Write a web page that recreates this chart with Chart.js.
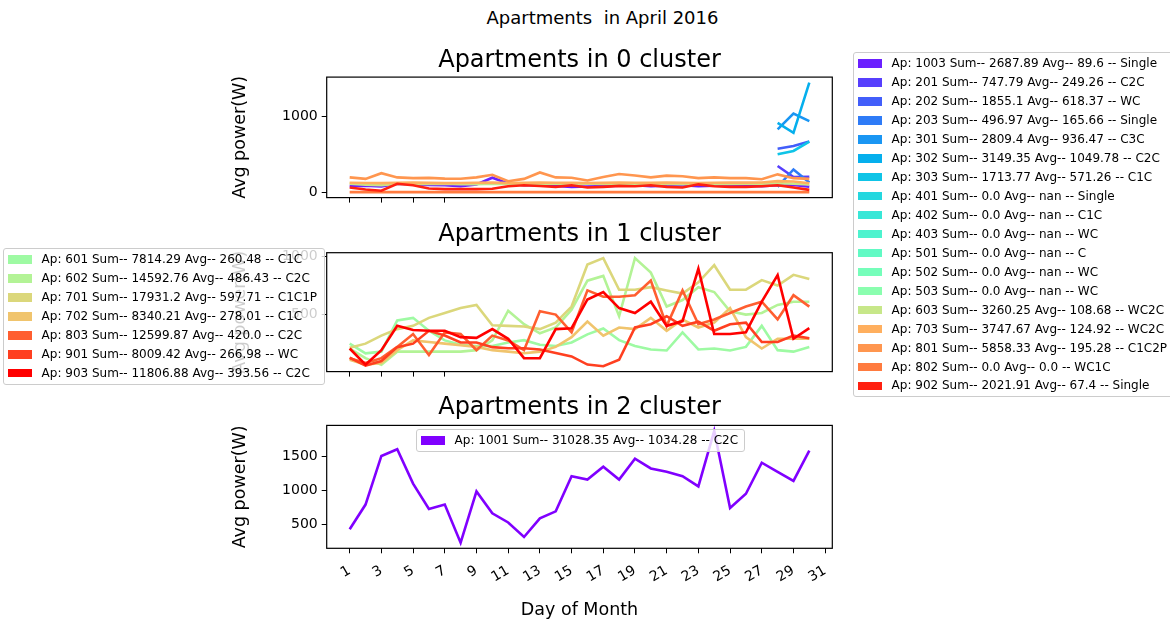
<!DOCTYPE html>
<html lang="en">
<head>
<meta charset="UTF-8">
<title>Apartments in April 2016</title>
<script src="https://cdn.jsdelivr.net/npm/chart.js"></script>
<style>
  body { margin: 0; width: 1170px; height: 624px; overflow: hidden; background: #fff; position: relative;
         font-family: 'DejaVu Sans', sans-serif; color: #000; }
  canvas { position: absolute; left: 200px; }
  #suptitle { position: absolute; left: 0; width: 1205px; top: 7px; text-align: center; font-size: 18px;
              line-height: 21px; white-space: pre; }
  .legend { position: absolute; z-index: 5; background: rgba(255,255,255,0.8); border: 1px solid #ccc;
            border-radius: 3px; padding: 4px 4px; font-size: 12px; white-space: nowrap; box-sizing: border-box; }
  .legend .row { height: 12.98px; line-height: 12.98px; margin-bottom: 6px; display: flex; align-items: center; }
  .legend .row:last-child { margin-bottom: 0; }
  .legend .sw { width: 24px; height: 8.4px; margin-right: 9.6px; flex: none; }
</style>
</head>
<body>
<div id="suptitle">Apartments  in April 2016</div>
<canvas id="c0" width="759" height="180" style="top:30px"></canvas>
<canvas id="c1" width="759" height="179" style="top:205px"></canvas>
<canvas id="c2" width="759" height="246" style="top:378px"></canvas>
<div class="legend" id="leg0" style="left:853px; top:52px; width:340px"></div>
<div class="legend" id="leg1" style="left:3px; top:248px; width:322px"></div>
<div class="legend" id="leg2" style="left:416px; top:429px; width:329px"></div>

<script>
// days of April with readings
const days = [1,2,3,4,5,6,7,8,9,10,11,12,13,14,15,16,17,18,19,20,21,22,23,24,25,26,27,28,29,30];
const lateDays = [28, 29, 30];
const xTicksBottom = [1,3,5,7,9,11,13,15,17,19,21,23,25,27,29,31];
const xTicksShared = [1,3,5,7];

// cluster 0
const ap1003 = [80,85,75,110,100,95,90,80,100,190,115,90,90,80,70,75,80,85,90,80,85,90,80,85,90,85,80,90,95,70];
const ap201 = [345, 200, 202.79];
const ap202 = [575, 610, 670.1];
const ap203 = [70, 300, 126.97];
const ap301 = [830, 1040, 939.4];
const ap302 = [915, 785, 1449.35];
const ap303 = [500, 545, 668.77];
const ap401 = []; // nan
const ap402 = [];
const ap403 = [];
const ap501 = [];
const ap502 = [];
const ap503 = [];
const ap603 = [112,98,92,110,105,108,112,106,104,110,108,106,112,112,116,110,108,107,110,109,108,104,110,106,108,112,110,118,110,100];
const ap703 = [124,121,119,123,125,122,119,121,124,127,121,123,125,124,122,120,123,126,124,122,125,123,121,124,126,125,127,146,141,118];
const ap801 = [195,175,250,195,185,188,178,177,195,230,145,175,260,195,190,155,200,240,220,195,218,210,185,195,185,185,170,235,185,175];
const ap802 = [0,0,0,0,0,0,0,0,0,0,0,0,0,0,0,0,0,0,0,0,0,0,0,0,0,0,0,0,0,0];
const ap902 = [62,35,18,110,90,48,40,40,40,44,78,90,82,70,90,62,70,82,78,90,70,62,103,78,70,70,78,90,62,30];

// cluster 1
const ap601 = [250,167,181,450,472,361,278,240,230,230,260,280,240,230,260,330,380,280,230,200,191,347,200,208,191,222,403,194,181,222];
const ap602 = [208,125,69,181,181,181,181,181,194,278,533,417,339,389,542,792,833,486,986,861,569,625,736,694,528,500,514,583,611,611];
const ap701 = [214,250,319,375,403,472,514,556,583,408,403,397,375,431,569,931,986,714,714,736,708,681,778,925,714,714,797,750,842,806];
const ap702 = [111,69,83,194,278,264,250,236,222,194,181,167,181,222,306,440,319,389,375,472,361,458,389,431,556,306,208,292,292,292];
const ap803 = [125,83,125,222,333,153,347,333,194,319,278,194,528,500,347,708,653,653,667,792,403,708,417,458,514,569,611,458,667,569];
const ap901 = [130,60,100,220,250,360,320,260,260,220,210,210,200,170,140,70,56,111,389,417,486,403,439,361,417,431,264,264,319,297];
const ap903 = [208,69,194,403,367,361,361,306,300,375,292,125,125,375,383,630,694,556,514,611,403,444,894,333,333,347,611,839,292,383];

// cluster 2
const ap1001 = [425,790,1510,1610,1100,725,790,225,985,660,525,310,585,690,1210,1160,1350,1160,1470,1325,1275,1210,1060,1880,740,950,1410,1275,1140,1590];

// legend texts
const c0Aps = ['1003','201','202','203','301','302','303','401','402','403','501','502','503','603','703','801','802','902'];
const c0Sums = ['2687.89','747.79','1855.1','496.97','2809.4','3149.35','1713.77','0.0','0.0','0.0','0.0','0.0','0.0','3260.25','3747.67','5858.33','0.0','2021.91'];
const c0Avgs = ['89.6','249.26','618.37','165.66','936.47','1049.78','571.26','nan','nan','nan','nan','nan','nan','108.68','124.92','195.28','0.0','67.4'];
const c0Kinds = ['Single','C2C','WC','Single','C3C','C2C','C1C','Single','C1C','WC','C','WC','WC','WC2C','WC2C','C1C2P','WC1C','Single'];

const c1Aps = ['601','602','701','702','803','901','903'];
const c1Sums = ['7814.29','14592.76','17931.2','8340.21','12599.87','8009.42','11806.88'];
const c1Avgs = ['260.48','486.43','597.71','278.01','420.0','266.98','393.56'];
const c1Kinds = ['C1C','C2C','C1C1P','C1C','C2C','WC','C2C'];

const c2Aps = ['1001'];
const c2Sums = ['31028.35'];
const c2Avgs = ['1034.28'];
const c2Kinds = ['C2C'];

// rainbow colours, one per apartment
const c0Colors = ['#6b20ff','#573ffd','#425efa','#2e7bf7','#1a96f3','#05afed','#0fc4e7','#24d7df','#38e7d7','#4df3ce',
                  '#61fac4','#75feba','#8afeaf','#c7e789','#ffaf5e','#ff964f','#ff7b3f','#ff2010'];
const c1Colors = ['#9efaa3','#b3f396','#dbd77b','#f0c46d','#ff5e30','#ff3f20','#ff0000'];
const c2Colors = ['#8000ff'];

const c0Series = [[days, ap1003], [lateDays, ap201], [lateDays, ap202], [lateDays, ap203], [lateDays, ap301],
  [lateDays, ap302], [lateDays, ap303], [days, ap401], [days, ap402], [days, ap403], [days, ap501], [days, ap502],
  [days, ap503], [days, ap603], [days, ap703], [days, ap801], [days, ap802], [days, ap902]];
const c1Series = [[days, ap601], [days, ap602], [days, ap701], [days, ap702], [days, ap803], [days, ap901], [days, ap903]];
const c2Series = [[days, ap1001]];

function label(ap, s, a, k) {
    return 'Ap: ' + ap + ' Sum-- ' + s + ' Avg-- ' + a + ' -- ' + k;
}

function buildLegend(id, aps, sums, avgs, kinds, colors) {
    const el = document.getElementById(id);
    aps.forEach(function(ap, i) {
        const row = document.createElement('div');
        row.className = 'row';
        const sw = document.createElement('span');
        sw.className = 'sw';
        sw.style.background = colors[i];
        const t = document.createElement('span');
        t.textContent = label(ap, sums[i], avgs[i], kinds[i]);
        row.appendChild(sw);
        row.appendChild(t);
        el.appendChild(row);
    });
}

function padded(series) {
    let vals = [];
    series.forEach(s => { vals = vals.concat(s[1]); });
    const lo = Math.min(...vals), hi = Math.max(...vals);
    const m = (hi - lo) * 0.05;
    return [lo - m, hi + m];
}

const frame = {
    id: 'frame',
    afterDatasetsDraw(chart) {
        const a = chart.chartArea, ctx = chart.ctx;
        ctx.save();
        ctx.strokeStyle = '#000';
        ctx.lineWidth = 1.2;
        ctx.strokeRect(a.left, a.top, a.right - a.left, a.bottom - a.top);
        ctx.restore();
    }
};

Chart.defaults.font.family = "'DejaVu Sans', sans-serif";
Chart.defaults.color = '#000';

function makeChart(id, title, series, colors, yTicks, opts) {
    const yr = padded(series);
    const datasets = series.map(function(s, i) {
        return {
            data: s[1].map((v, j) => ({x: s[0][j], y: v})),
            borderColor: colors[i],
            borderWidth: 2.6,
            pointRadius: 0,
            fill: false,
            tension: 0,
            order: -i
        };
    });
    return new Chart(document.getElementById(id), {
        type: 'line',
        data: {datasets: datasets},
        plugins: [frame],
        options: {
            responsive: false,
            animation: false,
            devicePixelRatio: 1,
            layout: {padding: {left: 0, right: 126.7, top: 0, bottom: 0}},
            plugins: {
                legend: {display: false},
                tooltip: {enabled: false},
                title: {
                    display: true,
                    text: title,
                    fullSize: false,
                    font: {size: 24, weight: 'normal', lineHeight: 1.2},
                    padding: {top: opts.titleTop, bottom: opts.titleBottom}
                }
            },
            scales: {
                x: {
                    type: 'linear',
                    min: 1 - 0.05 * 29,
                    max: 30 + 0.05 * 29,
                    afterBuildTicks: s => { s.ticks = opts.xTicks.map(v => ({value: v})); },
                    afterFit: s => { s.height = opts.xHeight; },
                    border: {display: false},
                    grid: {drawOnChartArea: false, drawTicks: true, tickLength: 5, color: '#000', lineWidth: 1},
                    ticks: {
                        display: opts.xLabels,
                        autoSkip: false,
                        minRotation: 30,
                        maxRotation: 30,
                        padding: 9,
                        font: {size: 14},
                        callback: v => String(v)
                    },
                    title: {
                        display: opts.xLabels,
                        text: 'Day of Month',
                        font: {size: 17.5, lineHeight: 1.2},
                        padding: {top: 0, bottom: 3}
                    }
                },
                y: {
                    type: 'linear',
                    min: yr[0],
                    max: yr[1],
                    afterBuildTicks: s => { s.ticks = yTicks.map(v => ({value: v})); },
                    afterFit: s => { s.width = 126.7; },
                    border: {display: false},
                    grid: {drawOnChartArea: false, drawTicks: true, tickLength: 5, color: '#000', lineWidth: 1},
                    ticks: {padding: 4, font: {size: 14}, callback: v => String(v)},
                    title: {
                        display: true,
                        text: 'Avg power(W)',
                        font: {size: 17.5, lineHeight: 1.2},
                        padding: {top: 29.5, bottom: 0}
                    }
                }
            }
        }
    });
}

makeChart('c0', 'Apartments in 0 cluster', c0Series, c0Colors, [0, 1000],
    {titleTop: 15.9, titleBottom: 2.4, xTicks: xTicksShared, xHeight: 10, xLabels: false});
makeChart('c1', 'Apartments in 1 cluster', c1Series, c1Colors, [500, 1000],
    {titleTop: 14.9, titleBottom: 4.0, xTicks: xTicksShared, xHeight: 10, xLabels: false});
makeChart('c2', 'Apartments in 2 cluster', c2Series, c2Colors, [500, 1000, 1500],
    {titleTop: 14.9, titleBottom: 3.7, xTicks: xTicksBottom, xHeight: 75.7, xLabels: true});

buildLegend('leg0', c0Aps, c0Sums, c0Avgs, c0Kinds, c0Colors);
buildLegend('leg1', c1Aps, c1Sums, c1Avgs, c1Kinds, c1Colors);
buildLegend('leg2', c2Aps, c2Sums, c2Avgs, c2Kinds, c2Colors);
</script>
</body>
</html>
